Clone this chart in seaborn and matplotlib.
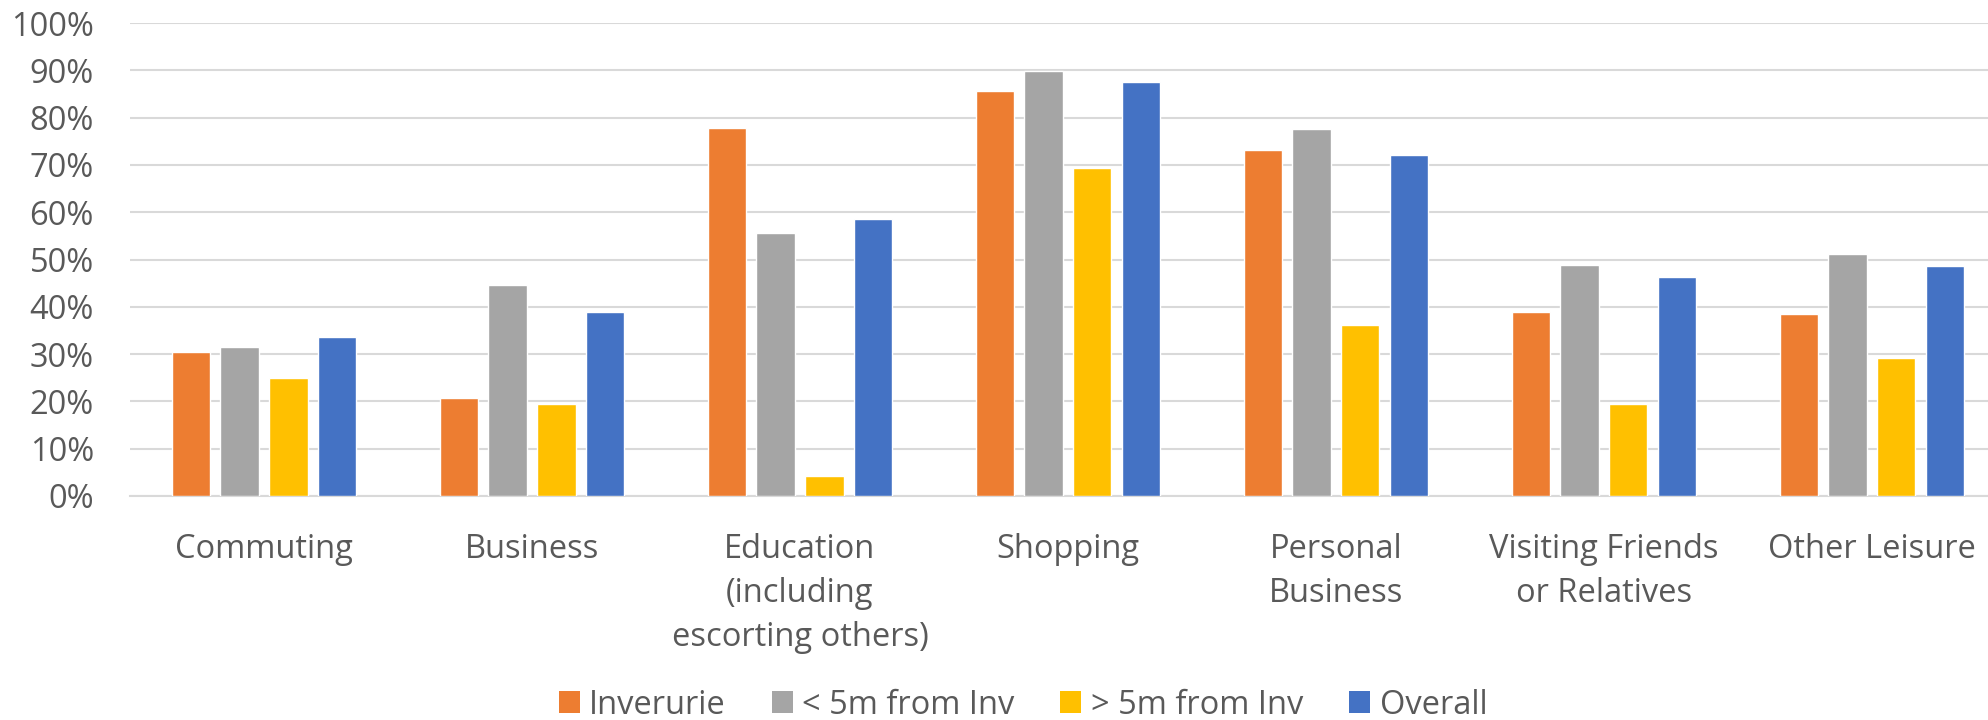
import matplotlib
matplotlib.use("Agg")
import matplotlib.pyplot as plt
import seaborn as sns
import pandas as pd
from matplotlib.ticker import PercentFormatter
from matplotlib.patches import Patch

categories = ["Commuting", "Business", "Education\n(including\nescorting others)", "Shopping",
              "Personal\nBusiness", "Visiting Friends\nor Relatives", "Other Leisure"]
series = ["Inverurie", "< 5m from Inv", "> 5m from Inv", "Overall"]
inverurie = [30.4, 20.7, 77.8, 85.7, 73.2, 39.0, 38.5]
near_inv = [31.4, 44.7, 55.5, 89.8, 77.6, 48.8, 51.1]
far_inv = [25.0, 19.4, 4.2, 69.4, 36.1, 19.4, 29.1]
overall = [33.7, 39.0, 58.6, 87.5, 72.1, 46.4, 48.7]
colors = ["#ED7D31", "#A5A5A5", "#FFC000", "#4472C4"]

rows = []
for name, vals in zip(series, [inverurie, near_inv, far_inv, overall]):
    for cat, v in zip(categories, vals):
        rows.append({"category": cat, "series": name, "value": v / 100})
df = pd.DataFrame(rows)

sns.set_theme(style="white")
plt.rcParams["font.family"] = ["Open Sans", "DejaVu Sans"]
text_color = "#595959"
fs = 23.5

fig = plt.figure(figsize=(19.88, 7.2), dpi=100)
ax = fig.add_axes([130 / 1988, 1 - 496 / 720, 1858 / 1988, 473 / 720])

sns.barplot(data=df, x="category", y="value", hue="series", order=categories,
            hue_order=series, palette=colors, width=0.727, gap=0.213,
            saturation=1, ax=ax, legend=False, zorder=3)

ax.set_ylim(0, 1.0)
ax.set_yticks([i / 10 for i in range(11)])
ax.yaxis.set_major_formatter(PercentFormatter(1.0, decimals=0))
ax.set_xlim(-0.5, 6.433)
ax.grid(axis="y", color="#D9D9D9", linewidth=1.5, zorder=0)
ax.set_axisbelow(True)
for s in ["top", "right", "left"]:
    ax.spines[s].set_visible(False)
ax.spines["bottom"].set_color("#D9D9D9")
ax.spines["bottom"].set_linewidth(1.5)
ax.set_xlabel("")
ax.set_ylabel("")
ax.tick_params(axis="both", length=0, labelsize=fs, colors=text_color)
ax.tick_params(axis="y", pad=26)
ax.tick_params(axis="x", pad=26.5)
for lbl in ax.get_xticklabels():
    lbl.set_linespacing(1.45)

handles = [Patch(facecolor=c, edgecolor="none") for c in colors]
fig.legend(handles, series, loc="center", bbox_to_anchor=(1023 / 1988, 1 - 705 / 720), ncol=4,
           frameon=False, fontsize=fs, labelcolor=text_color, handlelength=0.64,
           handleheight=0.64, handletextpad=0.3, columnspacing=1.4, borderpad=0.2)

fig.savefig("out.png", dpi=100)
